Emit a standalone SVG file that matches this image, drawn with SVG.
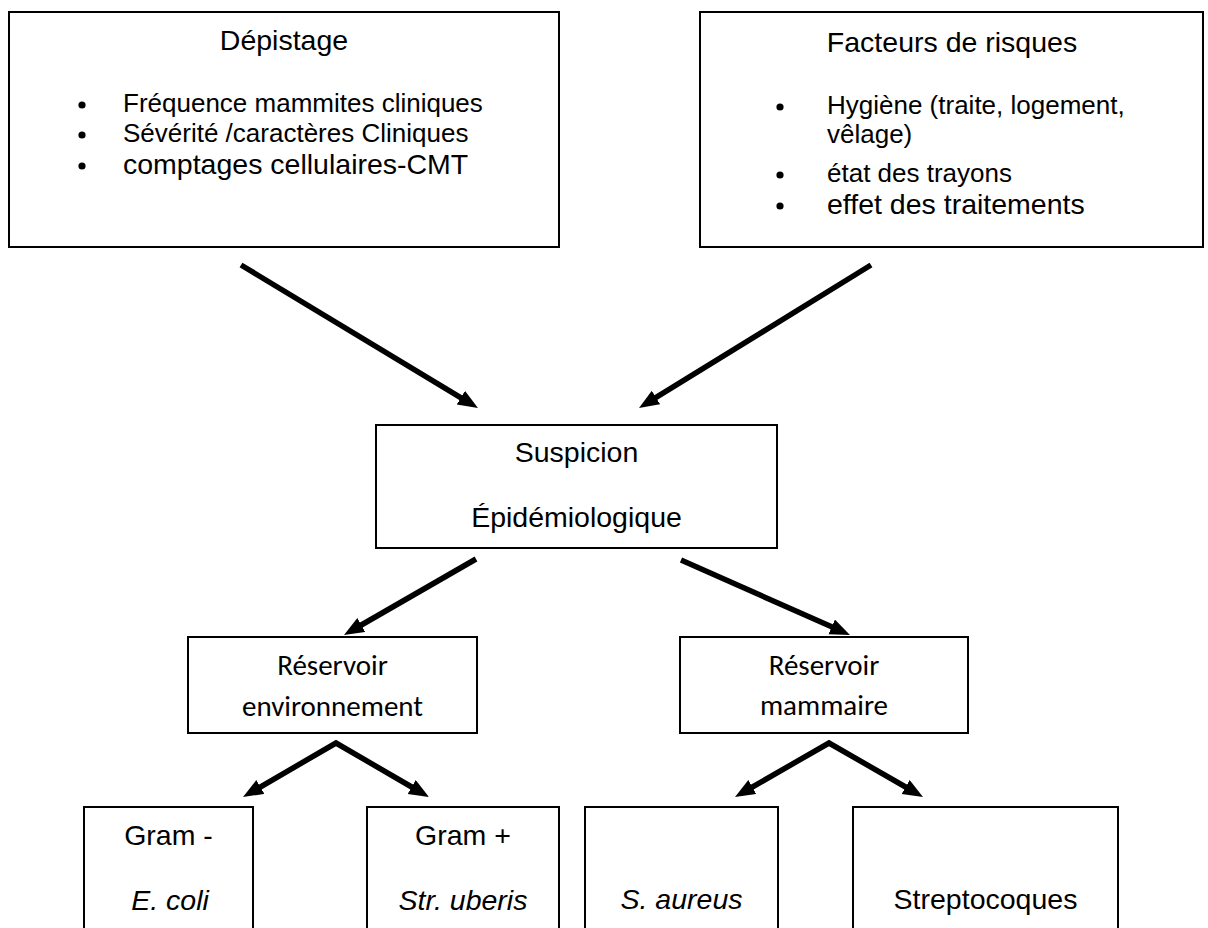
<svg xmlns="http://www.w3.org/2000/svg" width="1208" height="928" viewBox="0 0 1208 928">
<style>
.box{fill:#fff;stroke:#000;stroke-width:2}
.t{font-family:"Liberation Sans",Arial,sans-serif;fill:#000}
.big{font-size:28.5px}
.small{font-size:26px}
.mid{text-anchor:middle}
.it{font-style:italic}
.cal{font-family:Carlito,Calibri,Lato,sans-serif;font-size:29px;text-anchor:middle;fill:#000}
.arr{fill:none;stroke:#000;stroke-width:5.5;stroke-linejoin:miter;marker-end:url(#ah)}
.arr2{fill:none;stroke:#000;stroke-width:5.5;stroke-linejoin:miter;marker-start:url(#ah);marker-end:url(#ah)}
</style>
<defs>
<marker id="ah" markerUnits="userSpaceOnUse" markerWidth="22" markerHeight="18" refX="8" refY="8" orient="auto-start-reverse" viewBox="0 0 22 18">
<path d="M0,0 L20,8 L0,16 z" fill="#000"/>
</marker>
</defs>
<rect width="1208" height="928" fill="#fff"/>
<g id="depistage">
<rect class="box" x="9" y="12" width="550" height="235"/>
<text class="t big mid" x="284" y="50">Dépistage</text>
<circle cx="82" cy="105" r="3.6"/>
<circle cx="82" cy="135" r="3.6"/>
<circle cx="82" cy="166" r="3.6"/>
<text class="t small" x="123" y="112">Fréquence mammites cliniques</text>
<text class="t small" x="123" y="142">Sévérité /caractères Cliniques</text>
<text class="t big" x="123" y="174">comptages cellulaires-CMT</text>
</g>
<g id="facteurs">
<rect class="box" x="700" y="12" width="503" height="235"/>
<text class="t big mid" x="952" y="52">Facteurs de risques</text>
<circle cx="780" cy="107" r="3.6"/>
<circle cx="780" cy="175" r="3.6"/>
<circle cx="780" cy="206" r="3.6"/>
<text class="t small" x="827" y="114">Hygiène (traite, logement,</text>
<text class="t small" x="827" y="143">vêlage)</text>
<text class="t small" x="827" y="182">état des trayons</text>
<text class="t big" x="827" y="214">effet des traitements</text>
</g>
<g id="suspicion">
<rect class="box" x="376" y="425" width="401" height="123"/>
<text class="t big mid" x="576.5" y="462">Suspicion</text>
<text class="t big mid" x="576.5" y="527">Épidémiologique</text>
</g>
<g id="reservoir-env">
<rect class="box" x="188" y="637" width="289" height="96"/>
<text class="cal" x="332.5" y="675">Réservoir</text>
<text class="cal" x="332.5" y="716">environnement</text>
</g>
<g id="reservoir-mam">
<rect class="box" x="680" y="637" width="288" height="96"/>
<text class="cal" x="824" y="675">Réservoir</text>
<text class="cal" x="824" y="715">mammaire</text>
</g>
<g id="gram-neg">
<rect class="box" x="84" y="807" width="169" height="140"/>
<text class="t big mid" x="168.5" y="845">Gram -</text>
<text class="t big mid it" x="170" y="910">E. coli</text>
</g>
<g id="gram-pos">
<rect class="box" x="367" y="807" width="192" height="140"/>
<text class="t big mid" x="463" y="845">Gram +</text>
<text class="t big mid it" x="463" y="910">Str. uberis</text>
</g>
<g id="saureus">
<rect class="box" x="585" y="807" width="193" height="140"/>
<text class="t big mid it" x="681.5" y="909">S. aureus</text>
</g>
<g id="streptocoques">
<rect class="box" x="853" y="807" width="265" height="140"/>
<text class="t big mid" x="985.5" y="909">Streptocoques</text>
</g>
<g id="connectors">
<path class="arr" d="M241,265 L467.7,401.8"/>
<path class="arr" d="M871,265 L649.2,401.7"/>
<path class="arr" d="M476,559 L354.4,629"/>
<path class="arr" d="M681,560 L839,630.1"/>
<path class="arr2" d="M253.4,791 L336,743 L418.6,791"/>
<path class="arr2" d="M745.4,791 L829,743 L912.6,791"/>
</g>
</svg>
